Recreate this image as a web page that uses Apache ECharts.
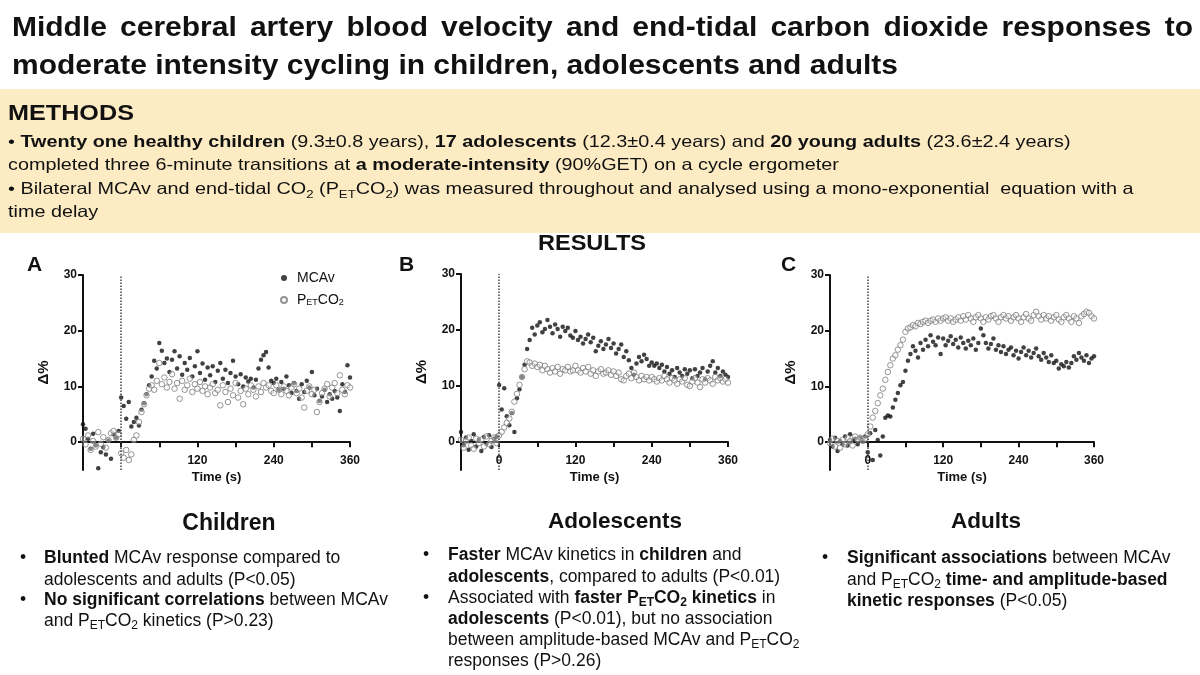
<!DOCTYPE html>
<html>
<head>
<meta charset="utf-8">
<title>MCAv and PETCO2 responses to moderate intensity cycling</title>
<script src="https://cdn.jsdelivr.net/npm/echarts@6.0.0/dist/echarts.min.js"></script>
<style>
  html, body { margin: 0; padding: 0; background: #fff; }
  #main { width: 1200px; height: 675px; }
</style>
</head>
<body>
<div id="main"></div>
<script>
// traces are sampled every 4 s, from -60 s to 360 s (106 points)
const T0 = -60, STEP = 4;
const xTicks = [0, 60, 120, 180, 240, 300, 360];
const yTicks = [0, 10, 20, 30];
const xLabels = [[120, 240, 360], [0, 120, 240, 360], [0, 120, 240, 360]];
const groups = ['Children', 'Adolescents', 'Adults'];
const letters = ['A', 'B', 'C'];

// A - children, Δ%
const childMCAv = [
  3.2, 2.4, 0.6, -1.2, 1.5, -0.6, -4.7, -1.8, -0.9, -2.2, 0.3, -3.0, 1.4, 0.8, 2.0,
  8.0, 6.5, 4.2, 7.2, 2.8, 3.6, 4.4, 3.0, 5.8, 7.0, 8.6, 10.2, 11.8, 14.6, 13.2,
  17.8, 16.4, 14.2, 15.0, 12.6, 14.8, 16.3, 13.2, 15.4, 12.1, 14.2, 13.0, 15.1, 11.8, 13.6,
  16.3, 12.4, 14.1, 11.2, 13.4, 12.0, 13.6, 10.8, 12.8, 14.2, 11.4, 13.0, 10.6, 12.4, 14.6,
  11.8, 10.4, 12.2, 10.0, 11.6, 10.9, 11.4, 9.8, 11.2, 13.2, 14.8, 15.6, 16.2, 13.4, 11.0,
  10.6, 11.4, 9.4, 10.8, 9.6, 11.8, 10.2, 8.8, 10.6, 9.2, 7.8, 10.4, 9.0, 11.0, 9.8,
  12.6, 8.4, 9.6, 7.4, 8.2, 9.4, 7.2, 8.6, 7.8, 9.2, 8.0, 5.6, 10.4, 9.0, 13.8,
  11.6
];
const childPET = [
  0.6, -0.4, 1.2, -1.4, 0.2, -0.8, 1.8, -0.3, 0.9, -1.0, 0.4, 1.6, 2.0, 0.8, 1.4,
  -2.0, -2.8, -1.4, -3.2, -2.2, 0.4, 1.2, 3.6, 5.4, 6.8, 8.4, 9.6, 10.2, 9.4, 11.0,
  14.2, 10.4, 11.6, 9.8, 10.8, 12.2, 9.6, 10.6, 7.8, 11.0, 9.4, 10.2, 11.4, 9.0, 10.4,
  9.6, 10.8, 9.2, 10.0, 8.6, 9.8, 10.4, 8.8, 9.4, 6.6, 10.2, 9.0, 7.2, 9.6, 8.4,
  10.6, 8.0, 9.2, 6.8, 9.6, 8.6, 10.2, 9.4, 8.2, 10.0, 9.0, 10.6, 9.8, 10.2, 9.2,
  8.8, 10.2, 9.4, 8.6, 10.0, 9.2, 8.4, 9.8, 10.4, 8.8, 9.6, 8.0, 6.2, 9.2, 10.0,
  8.6, 9.4, 5.4, 7.2, 8.8, 9.6, 10.4, 8.2, 9.8, 10.6, 8.8, 12.0, 9.4, 8.6, 10.2,
  9.8
];

// B - adolescents
const adolMCAv = [
  1.8, -0.6, 0.8, -1.4, 0.2, 1.4, -0.8, 0.4, -1.6, 0.9, -0.3, 1.2, -0.9, 0.6, 1.0,
  10.2, 5.8, 9.6, 4.6, 3.0, 5.2, 1.8, 7.8, 9.4, 11.6, 13.8, 16.6, 18.2, 20.4, 19.2,
  20.8, 21.4, 19.6, 20.2, 21.8, 20.6, 19.4, 21.0, 20.2, 18.8, 20.6, 19.8, 20.4, 19.0, 18.6,
  19.8, 18.2, 18.8, 17.6, 18.4, 19.2, 17.8, 18.6, 16.2, 17.2, 18.0, 16.6, 17.4, 18.4, 16.8,
  17.6, 15.8, 16.6, 17.4, 15.2, 16.2, 14.6, 13.2, 12.0, 14.0, 15.2, 14.4, 15.6, 14.8, 13.6,
  14.2, 13.6, 14.0, 13.2, 13.8, 12.6, 13.4, 12.2, 12.8, 11.6, 13.2, 12.4, 11.8, 13.0, 12.2,
  12.8, 11.4, 13.0, 11.8, 12.4, 13.2, 11.2, 12.6, 13.6, 14.4, 12.4, 13.2, 11.8, 12.6, 12.0,
  11.6
];
const adolPET = [
  0.4, -1.0, 0.2, 0.8, -0.6, -1.2, 0.6, -0.2, 0.4, -0.8, 1.0, -0.4, 0.2, 0.8, -0.2,
  1.2, 1.8, 2.6, 3.4, 4.2, 5.4, 7.2, 8.6, 10.2, 11.6, 13.0, 14.4, 14.2, 13.6, 14.0,
  13.4, 13.8, 12.8, 13.6, 13.0, 12.4, 13.2, 12.6, 13.4, 12.2, 13.0, 12.8, 13.4, 12.6, 12.8,
  13.6, 12.8, 12.4, 13.2, 12.6, 13.4, 12.2, 12.8, 11.8, 12.6, 13.0, 12.2, 12.4, 12.8, 12.0,
  12.6, 11.8, 12.4, 11.2, 11.0, 11.8, 12.2, 11.4, 12.4, 11.6, 11.0, 11.8, 11.2, 11.6, 11.0,
  11.6, 11.2, 10.8, 11.4, 11.0, 11.8, 11.2, 10.6, 11.4, 11.0, 10.4, 11.2, 10.8, 11.4, 10.2,
  10.0, 10.8, 11.4, 10.6, 9.8, 11.2, 10.6, 11.4, 11.0, 10.4, 11.6, 11.0, 11.4, 10.8, 11.2,
  10.6
];

// C - adults
const adultMCAv = [
  0.4, -0.8, 0.8, -1.6, 0.2, -0.4, 1.0, -0.6, 1.4, 0.2, 0.6, -0.4, 0.8, 0.2, 1.0,
  -1.8, 1.6, -3.2, 2.2, 0.4, -2.4, 1.0, 4.4, 4.8, 4.6, 6.2, 7.6, 8.8, 10.2, 10.8,
  12.8, 14.6, 15.8, 17.2, 16.4, 15.2, 17.8, 16.6, 18.4, 17.2, 19.2, 18.0, 17.4, 18.8, 15.8,
  18.6, 17.4, 18.2, 19.0, 17.6, 18.4, 17.0, 18.8, 17.8, 16.8, 18.2, 17.4, 18.6, 16.6, 17.8,
  20.4, 19.2, 17.8, 16.8, 17.6, 18.6, 16.6, 17.4, 16.2, 17.2, 15.8, 16.6, 17.0, 15.6, 16.4,
  15.0, 16.2, 17.0, 15.6, 16.4, 15.2, 16.0, 16.8, 15.4, 14.8, 16.0, 15.2, 14.4, 15.6, 14.2,
  14.6, 13.2, 14.0, 13.6, 14.4, 13.4, 14.2, 15.4, 14.8, 16.0, 15.2, 14.6, 15.6, 14.2, 15.0,
  15.4
];
const adultPET = [
  -0.2, 0.6, -0.8, 0.2, -1.0, 0.4, -0.4, 0.8, 0.2, -0.6, 1.0, 0.4, 0.8, 0.2, 0.6,
  1.4, 2.8, 4.4, 5.6, 7.0, 8.4, 9.6, 11.2, 12.6, 13.8, 15.0, 15.6, 16.6, 17.4, 18.4,
  19.8, 20.4, 20.6, 21.0, 20.8, 21.4, 21.2, 21.6, 21.8, 21.4, 21.8, 22.0, 21.6, 22.2, 21.8,
  22.2, 22.4, 21.8, 22.2, 21.6, 22.0, 22.4, 21.8, 22.6, 22.0, 22.8, 22.2, 21.6, 22.4, 22.8,
  22.2, 21.6, 22.4, 22.0, 22.6, 22.8, 22.2, 21.6, 22.4, 22.8, 22.2, 22.6, 21.8, 22.4, 22.8,
  22.2, 21.6, 22.4, 23.0, 22.2, 21.8, 22.8, 23.4, 22.6, 22.0, 22.8, 22.2, 22.6, 21.8, 22.4,
  22.8, 22.0, 21.6, 22.4, 22.8, 22.2, 21.6, 22.6, 22.2, 21.4, 22.6, 23.0, 23.4, 23.2, 22.6,
  22.2
];

const mcav = [childMCAv, adolMCAv, adultMCAv];
const pet = [childPET, adolPET, adultPET];

const SANS = '"Liberation Sans", Arial, Helvetica, sans-serif';
const INK = '#111';

function rich(size) {
  const sub = Math.round(size * 0.66);
  return {
    b: { fontFamily: SANS, fontSize: size, fontWeight: 'bold', color: INK, lineHeight: 22 },
    s: { fontFamily: SANS, fontSize: sub, color: INK, verticalAlign: 'bottom', lineHeight: sub },
    bs: { fontFamily: SANS, fontSize: sub, fontWeight: 'bold', color: INK, verticalAlign: 'bottom', lineHeight: sub }
  };
}

// sx stretches the text sideways: the slide's text is set wider than Arial
function txt(x, y, text, size, bold, align, sx) {
  return {
    type: 'text', x: x, y: y, scaleX: sx || 1, silent: true,
    style: {
      text: text, fontFamily: SANS, fontSize: size, fontWeight: bold ? 'bold' : 'normal',
      fill: INK, lineHeight: 22, rich: rich(size),
      align: align || 'left', textAlign: align || 'left',
      verticalAlign: 'middle', textVerticalAlign: 'middle'
    }
  };
}

// full-justified line, one text element per word
function justified(line, x0, x1, y, size, sx) {
  const ctx = document.createElement('canvas').getContext('2d');
  ctx.font = 'bold ' + size + 'px ' + SANS;
  const words = line.split(' ');
  const w = words.map(s => ctx.measureText(s).width * sx);
  const gap = (x1 - x0 - w.reduce((a, b) => a + b, 0)) / (words.length - 1);
  let x = x0;
  return words.map((s, k) => {
    const el = txt(x, y, s, size, true, 'left', sx);
    x += w[k] + gap;
    return el;
  });
}

const pts = arr => arr.map((v, i) => [T0 + i * STEP, v]);

const grids = [
  { left: 83, top: 275, width: 267, height: 195 },
  { left: 461, top: 274, width: 267, height: 196 },
  { left: 830, top: 275, width: 264, height: 195 }
];

const xAxes = grids.map((g, i) => ({
  gridIndex: i, type: 'value', min: -60, max: 360,
  name: 'Time (s)', nameLocation: 'middle', nameGap: 1,
  nameTextStyle: { fontFamily: SANS, fontSize: 13, fontWeight: 'bold', color: INK },
  axisLine: { onZero: true, lineStyle: { color: INK, width: 2 } },
  axisTick: { customValues: xTicks, length: 5, lineStyle: { color: INK, width: 2 } },
  axisLabel: { customValues: xLabels[i], fontFamily: SANS, fontSize: 12, fontWeight: 'bold', color: INK, margin: -15 },
  splitLine: { show: false }
}));

const yAxes = grids.map((g, i) => ({
  gridIndex: i, type: 'value', min: -5, max: 30,
  name: 'Δ%', nameLocation: 'middle', nameGap: 32,
  nameTextStyle: { fontFamily: SANS, fontSize: 15, fontWeight: 'bold', color: INK },
  axisLine: { show: true, onZero: false, lineStyle: { color: INK, width: 2 } },
  axisTick: { show: true, customValues: yTicks, length: 5, lineStyle: { color: INK, width: 2 } },
  axisLabel: { customValues: yTicks, fontFamily: SANS, fontSize: 12, fontWeight: 'bold', color: INK, margin: 6 },
  splitLine: { show: false }
}));

const series = [];
grids.forEach((g, i) => {
  series.push({
    name: 'MCAv', type: 'scatter', xAxisIndex: i, yAxisIndex: i,
    symbol: 'circle', symbolSize: 4.5,
    itemStyle: { color: INK },
    data: pts(mcav[i]),
    markLine: {
      silent: true, symbol: 'none', label: { show: false },
      lineStyle: { type: 'dotted', color: '#444', width: 1.5 },
      data: [{ xAxis: 0 }]
    }
  });
  series.push({
    name: 'PETCO2', type: 'scatter', xAxisIndex: i, yAxisIndex: i,
    symbol: 'circle', symbolSize: 5.5,
    itemStyle: { color: 'rgba(255,255,255,0.45)', borderColor: '#7a7a7a', borderWidth: 1 },
    data: pts(pet[i])
  });
});

const graphic = [
  { type: 'rect', silent: true, z: -1, shape: { x: 0, y: 89, width: 1200, height: 144 }, style: { fill: '#fcebc3' } }
].concat(
  justified('Middle cerebral artery blood velocity and end-tidal carbon dioxide responses to', 12, 1193, 29, 27, 1.11),
  [
  txt(12, 67, 'moderate intensity cycling in children, adolescents and adults', 27, true, 'left', 1.11),
  txt(8, 114, 'METHODS', 22, true, 'left', 1.145),
  txt(8, 142, '• {b|Twenty one healthy children} (9.3±0.8 years), {b|17 adolescents} (12.3±0.4 years) and {b|20 young adults} (23.6±2.4 years)', 16.5, false, 'left', 1.2),
  txt(8, 165, 'completed three 6-minute transitions at {b|a moderate-intensity} (90%GET) on a cycle ergometer', 16.5, false, 'left', 1.2),
  txt(8, 189, '• Bilateral MCAv and end-tidal CO{s|2} (P{s|ET}CO{s|2}) was measured throughout and analysed using a mono-exponential  equation with a', 16.5, false, 'left', 1.2),
  txt(8, 212, 'time delay', 16.5, false, 'left', 1.2),
  txt(592, 244, 'RESULTS', 22, true, 'center', 1.07),
  txt(27, 265, letters[0], 21, true),
  txt(399, 265, letters[1], 21, true),
  txt(781, 265, letters[2], 21, true),
  txt(229, 524, groups[0], 23, true, 'center'),
  txt(615, 522, groups[1], 22.5, true, 'center'),
  txt(986, 522, groups[2], 22.5, true, 'center'),
  // children
  txt(20, 558, '•', 17.5), txt(44, 558, '{b|Blunted} MCAv response compared to', 17.5),
  txt(44, 580, 'adolescents and adults (P<0.05)', 17.5),
  txt(20, 600, '•', 17.5), txt(44, 600, '{b|No significant correlations} between MCAv', 17.5),
  txt(44, 621, 'and P{s|ET}CO{s|2} kinetics (P>0.23)', 17.5),
  // adolescents
  txt(423, 555, '•', 17.5), txt(448, 555, '{b|Faster} MCAv kinetics in {b|children} and', 17.5),
  txt(448, 577, '{b|adolescents}, compared to adults (P<0.01)', 17.5),
  txt(423, 598, '•', 17.5), txt(448, 598, 'Associated with {b|faster P}{bs|ET}{b|CO}{bs|2}{b| kinetics} in', 17.5),
  txt(448, 619, '{b|adolescents} (P<0.01), but no association', 17.5),
  txt(448, 640, 'between amplitude-based MCAv and P{s|ET}CO{s|2}', 17.5),
  txt(448, 661, 'responses (P>0.26)', 17.5),
  // adults
  txt(822, 558, '•', 17.5), txt(847, 558, '{b|Significant associations} between MCAv', 17.5),
  txt(847, 580, 'and P{s|ET}CO{s|2} {b|time- and amplitude-based}', 17.5),
  txt(847, 601, '{b|kinetic responses} (P<0.05)', 17.5)
  ]
);

const option = {
  backgroundColor: '#fff',
  animation: false,
  textStyle: { fontFamily: SANS },
  grid: grids,
  xAxis: xAxes,
  yAxis: yAxes,
  legend: {
    data: ['MCAv', 'PETCO2'],
    orient: 'vertical', left: 275, top: 266,
    itemWidth: 16, itemHeight: 6, itemGap: 8,
    textStyle: {
      fontFamily: SANS, fontSize: 14, color: INK,
      rich: {
        n: { fontFamily: SANS, fontSize: 14, color: INK },
        s: { fontFamily: SANS, fontSize: 9, color: INK, verticalAlign: 'bottom', lineHeight: 9 }
      }
    },
    formatter: n => n === 'PETCO2' ? '{n|P}{s|ET}{n|CO}{s|2}' : n
  },
  graphic: graphic,
  series: series
};

const chart = echarts.init(document.getElementById('main'));
chart.setOption(option);
</script>
</body>
</html>
